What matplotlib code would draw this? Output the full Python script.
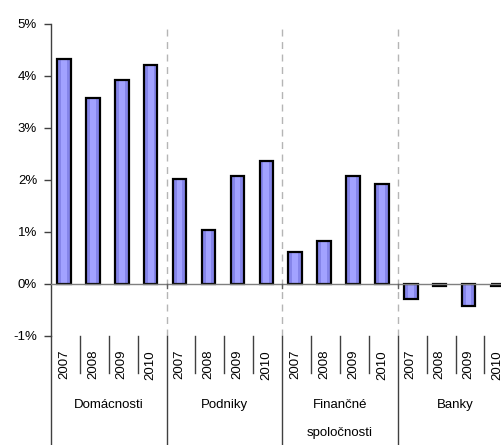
import numpy as np
import matplotlib
matplotlib.use('Agg')
import matplotlib.pyplot as plt

plt.rcParams['font.family'] = ['Liberation Sans', 'DejaVu Sans']

# data
groups = ['Domácnosti', 'Podniky', 'Finančné\nspoločnosti', 'Banky']
years = ['2007', '2008', '2009', '2010']
domacnosti = [4.32, 3.58, 3.92, 4.21]
podniky = [2.01, 1.04, 2.08, 2.36]
financne = [0.61, 0.83, 2.08, 1.93]
banky = [-0.29, -0.04, -0.42, -0.04]
yticks = [-1, 0, 1, 2, 3, 4, 5]

values = domacnosti + podniky + financne + banky
n = len(values)
x = np.arange(n) + 0.45

W, H = 502, 445
fig = plt.figure(figsize=(W / 100, H / 100), dpi=100)
# axes: left 51px, top 24px (5%), bottom 336px (-1%)
ax_l, ax_t, ax_b = 51, 24, 336
ax = fig.add_axes([ax_l / W, (H - ax_b) / H, (W - ax_l) / W, (ax_b - ax_t) / H])
ax_h = ax_b - ax_t
slot = 28.9
ax.set_xlim(0, (W - ax_l) / slot)
ax.set_ylim(-1, 5)

# bars with a lighter stripe in the middle
ax.bar(x, values, width=0.47, color='#8585ea', edgecolor='none', zorder=3)
ax.bar(x, values, width=0.2, color='#a2a2ff', edgecolor='none', zorder=3)
ax.bar(x, values, width=0.47, color='none', edgecolor='black', linewidth=1.6, zorder=3)

# zero line
ax.axhline(0, color='#7f7f7f', linewidth=1.0, zorder=4)

# dashed separators between groups
for g in range(1, len(groups)):
    ax.axvline(g * len(years), color='#b5b5b5', linestyle=(0, (5, 4)), linewidth=1.0, zorder=1)
    ax.plot([g * len(years)] * 2, [0, -0.08], color='#606060', linewidth=1.0, zorder=4)

for s in ['top', 'right', 'bottom']:
    ax.spines[s].set_visible(False)
ax.spines['left'].set_color('#404040')
ax.spines['left'].set_linewidth(1.0)

ax.set_yticks(yticks)
ax.set_yticklabels([f'{v}%' for v in yticks], fontsize=9.5)
ax.tick_params(axis='y', direction='out', length=5, width=1.0, color='#404040', pad=5)

ax.set_xticks(x)
ax.set_xticklabels(years * len(groups), rotation=90, fontsize=9.5, va='top')
ax.tick_params(axis='x', length=0, pad=10)

tr = ax.get_xaxis_transform()
fig_bottom = -(H - ax_b) / ax_h
# left axis extended to the bottom
ax.plot([0, 0], [0, fig_bottom], transform=tr, color='#404040', linewidth=1.0, clip_on=False)
# separators between years and groups
for i in range(1, n):
    if i % len(years) == 0:
        ax.plot([i, i], [0, fig_bottom], transform=tr, color='#404040', linewidth=1.0, clip_on=False)
    else:
        ax.plot([i, i], [0, -37 / ax_h], transform=tr, color='#404040', linewidth=1.0, clip_on=False)

# group labels
for g, name in enumerate(groups):
    cx = g * len(years) + len(years) / 2
    for k, line in enumerate(name.split('\n')):
        ax.text(cx, -(69 + 28 * k) / ax_h, line, transform=tr, ha='center', va='center',
                fontsize=9.5)

fig.savefig('out.png', dpi=100)
